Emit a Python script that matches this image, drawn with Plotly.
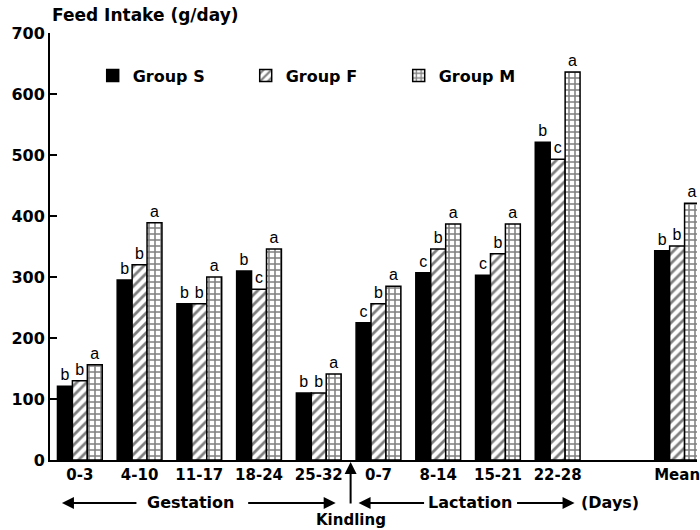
import plotly.graph_objects as go

categories = ["0-3", "4-10", "11-17", "18-24", "25-32", "0-7", "8-14", "15-21", "22-28", "Mean"]
positions = [0, 1, 2, 3, 4, 5, 6, 7, 8, 10]

group_s = [121, 295, 256, 310, 110, 225, 307, 303, 521, 343]
group_f = [130, 320, 256, 280, 110, 256, 346, 338, 493, 351]
group_m = [156, 389, 300, 346, 141, 285, 387, 387, 636, 421]

letters_s = ["b", "b", "b", "b", "b", "c", "c", "c", "b", "b"]
letters_f = ["b", "b", "b", "c", "b", "b", "b", "b", "c", "b"]
letters_m = ["a", "a", "a", "a", "a", "a", "a", "a", "a", "a"]

FONT = "Liberation Sans, Arial, Helvetica, sans-serif"
BFONT = "DejaVu Sans, Liberation Sans, Arial, sans-serif"
txt_font = dict(family=FONT, size=16, color="black")

fig = go.Figure()
fig.add_trace(go.Bar(
    x=positions, y=group_s, name="Group S", text=letters_s,
    textposition="outside", textfont=txt_font, cliponaxis=False, constraintext="none",
    marker=dict(color="black", line=dict(color="black", width=1.5)),
))
fig.add_trace(go.Bar(
    x=positions, y=group_f, name="Group F", text=letters_f,
    textposition="outside", textfont=txt_font, cliponaxis=False, constraintext="none",
    marker=dict(color="white", line=dict(color="black", width=1.5),
                pattern=dict(shape="/", fgcolor="black", bgcolor="white", size=7, solidity=0.4)),
))
fig.add_trace(go.Bar(
    x=positions, y=group_m, name="Group M", text=letters_m,
    textposition="outside", textfont=txt_font, cliponaxis=False, constraintext="none",
    marker=dict(color="white", line=dict(color="black", width=1.5),
                pattern=dict(shape="+", fgcolor="black", bgcolor="white", size=6, solidity=0.45)),
))

bold = dict(family=BFONT, size=15, color="black", weight="bold")

fig.update_layout(
    width=700, height=530,
    margin=dict(l=50, r=0, t=33, b=70),
    paper_bgcolor="white", plot_bgcolor="white",
    barmode="group", bargap=0.25, bargroupgap=0,
    showlegend=True,
    legend=dict(orientation="h", x=0.066, y=0.90, xanchor="left", yanchor="middle",
                font=dict(family=BFONT, size=16, color="black", weight="bold"),
                entrywidth=108, entrywidthmode="pixels", bgcolor="rgba(0,0,0,0)"),
    xaxis=dict(range=[-0.5, 10.333], tickvals=positions, ticktext=categories,
               showline=True, linecolor="black", linewidth=2, ticks="",
               showgrid=False, zeroline=False, tickfont=bold, ticklabeloverflow="allow"),
    yaxis=dict(range=[0, 700], tickvals=[0, 100, 200, 300, 400, 500, 600, 700],
               showline=True, linecolor="black", linewidth=2, ticks="inside",
               ticklen=7, tickwidth=2, tickcolor="black",
               showgrid=False, zeroline=False, tickfont=dict(bold, size=16)),
)

def px_x(p):
    return (p - 50) / 650.0

def px_y(p):
    return (460 - p) / 427.0

ann_font = dict(family=BFONT, size=16, color="black", weight="bold")
anns = [
    dict(text="Feed Intake (g/day)", x=px_x(50), y=px_y(15), xanchor="left", yanchor="middle", size=17),
    dict(text="Gestation", x=px_x(191), y=px_y(503), xanchor="center", yanchor="middle", size=16),
    dict(text="Lactation", x=px_x(472), y=px_y(503), xanchor="center", yanchor="middle", size=16),
    dict(text="(Days)", x=px_x(613), y=px_y(503), xanchor="center", yanchor="middle", size=16),
    dict(text="Kindling", x=px_x(352), y=px_y(520), xanchor="center", yanchor="middle", size=15),
]
for a in anns:
    sz = a.pop("size")
    f = dict(ann_font, size=sz)
    fig.add_annotation(xref="paper", yref="paper", showarrow=False, font=f, **a)

arrows = [
    (62, 503, 76, 0),
    (337, 503, -89, 0),
    (360, 503, 67, 0),
    (577, 503, -59, 0),
    (352, 462, 0, 43),
]
for hx, hy, ax, ay in arrows:
    fig.add_annotation(xref="paper", yref="paper", x=px_x(hx), y=px_y(hy), text="",
                       showarrow=True, ax=ax, ay=ay, axref="pixel", ayref="pixel",
                       arrowhead=2, arrowsize=1.2, arrowwidth=2, arrowcolor="black")

fig.write_html(
    "out.html",
    config={"displayModeBar": False},
    post_script="document.documentElement.style.margin='0';document.body.style.margin='0';document.body.style.overflow='hidden';",
)
